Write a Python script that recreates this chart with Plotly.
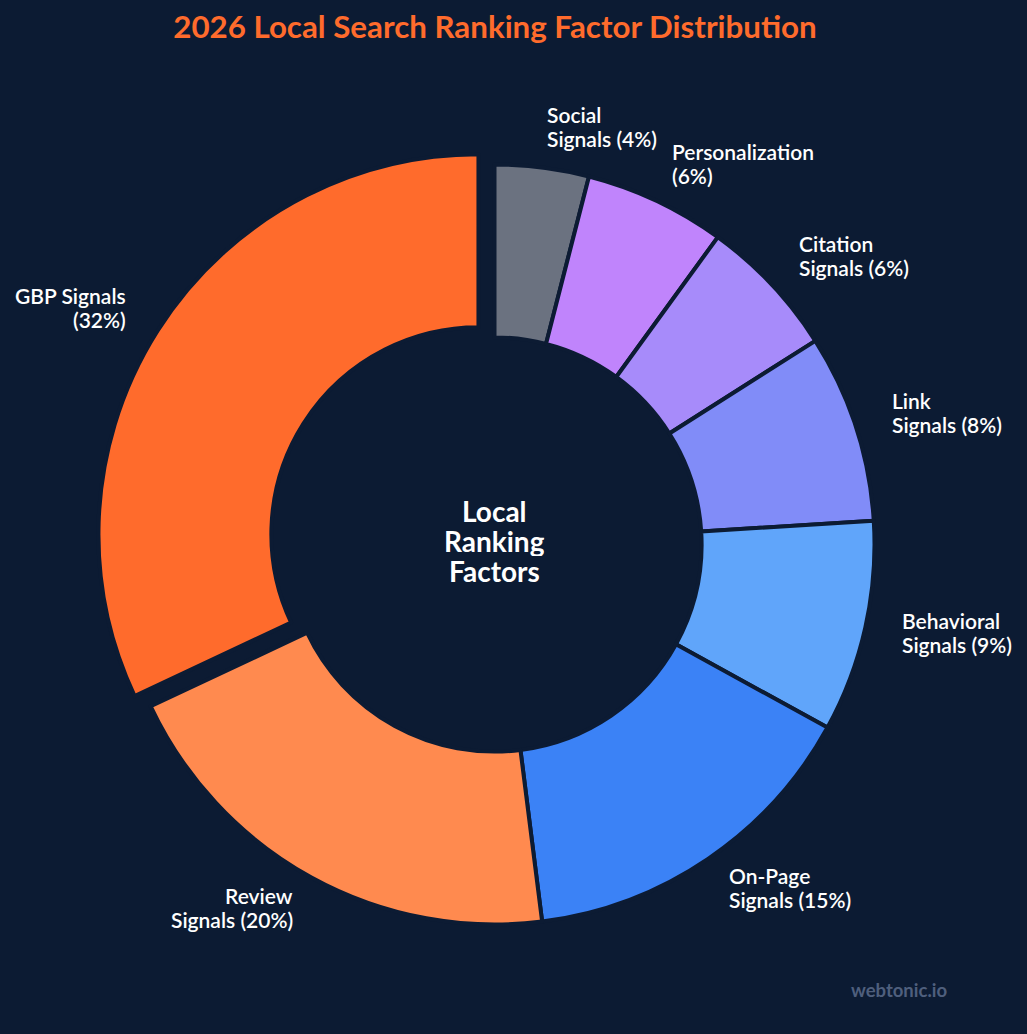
import math
import plotly.graph_objects as go

categories = ["Social Signals", "Personalization", "Citation Signals", "Link Signals",
              "Behavioral Signals", "On-Page Signals", "Review Signals", "GBP Signals"]
values = [4, 6, 6, 8, 9, 15, 20, 32]
label_lines = [["Social", "Signals (4%)"], ["Personalization", "(6%)"], ["Citation", "Signals (6%)"],
               ["Link", "Signals (8%)"], ["Behavioral", "Signals (9%)"], ["On-Page", "Signals (15%)"],
               ["Review", "Signals (20%)"], ["GBP Signals", "(32%)"]]
center_lines = ["Local", "Ranking", "Factors"]
colors = ["#6b7280", "#c084fc", "#a78bfa", "#818cf8", "#60a5fa", "#3b82f6", "#ff8a4f", "#ff6b2c"]
pulls = [0, 0, 0, 0, 0, 0, 0, 0.05]

BG = "#0c1b33"
W, H = 1027, 1034
CX, CY = 494.5, 544.5      # pie centre in px
RADIUS = 380               # outer radius in px
MAXPULL = max(pulls)
HALF = RADIUS * (1 + MAXPULL)
LABEL_R = 1.1 * RADIUS

fig = go.Figure(go.Pie(
    labels=categories,
    values=values,
    textinfo="none",
    hole=0.545,
    sort=False,
    direction="clockwise",
    rotation=0,
    pull=pulls,
    marker=dict(colors=colors, line=dict(color=BG, width=4)),
    domain=dict(x=[(CX - HALF) / W, (CX + HALF) / W], y=[1 - (CY + HALF) / H, 1 - (CY - HALF) / H]),
    showlegend=False,
    hoverinfo="label+percent",
))

annotations = []
total = sum(values)
cum = 0
for v, lines, p in zip(values, label_lines, pulls):
    mid = (cum + v / 2) / total * 2 * math.pi
    cum += v
    r = LABEL_R + p * RADIUS
    px = CX + r * math.sin(mid)
    py = CY - r * math.cos(mid)
    xanchor = "left" if math.sin(mid) >= 0 else "right"
    for i, line in enumerate(lines):
        annotations.append(dict(
            text=line, x=px / W, y=1 - py / H, xref="paper", yref="paper",
            xanchor=xanchor, yanchor="middle", yshift=15 - 24 * i, showarrow=False,
            borderpad=0, borderwidth=0,
            font=dict(family="Lato", size=21, color="#ffffff", weight=600),
        ))

for i, line in enumerate(center_lines):
    annotations.append(dict(
        text=line, x=CX / W, y=1 - CY / H, xref="paper", yref="paper",
        xanchor="center", yanchor="middle", yshift=34 - 30 * i, showarrow=False,
        borderpad=0, borderwidth=0, height=30,
        font=dict(family="Lato", size=28, color="#ffffff", weight="bold"),
    ))

annotations.append(dict(
    text="webtonic.io", x=948 / W, y=1 - 990 / H, xref="paper", yref="paper",
    xanchor="right", yanchor="middle", showarrow=False, borderpad=0, borderwidth=0,
    font=dict(family="Lato", size=18.5, color="#4f5f7d", weight="bold"),
))

fig.update_layout(
    width=W, height=H,
    paper_bgcolor=BG, plot_bgcolor=BG,
    margin=dict(l=0, r=0, t=0, b=0),
    title=dict(text="2026 Local Search Ranking Factor Distribution",
               font=dict(family="Lato", size=31.3, color="#ff6b2c", weight="bold"),
               x=495 / W, xanchor="center", y=1 - 27 / H, yanchor="middle"),
    annotations=annotations,
)

fig.write_html("out.html")
